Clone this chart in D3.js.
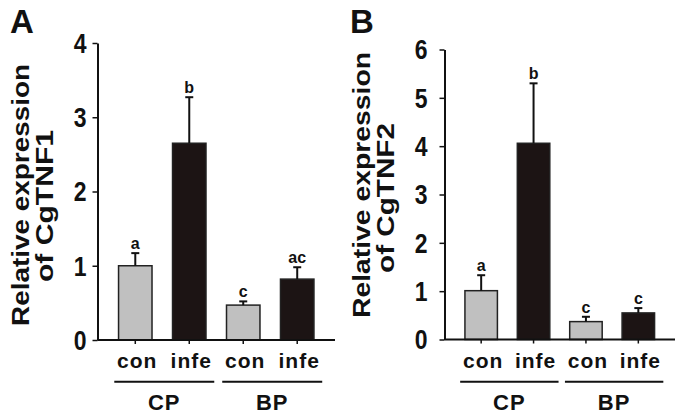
<!DOCTYPE html>
<html><head><meta charset="utf-8">
<script src="https://cdn.jsdelivr.net/npm/d3@7"></script>
<style>body{margin:0;background:#fff}text{font-family:"Liberation Sans",Arial,sans-serif;font-weight:bold;fill:#111}</style>
</head><body><svg id="c" width="683" height="417"></svg>
<script>
const categories = ["con","infe","con","infe"];
const groups = ["CP","BP"];
const valuesA = [1.0, 2.65, 0.47, 0.82];
const errorsA = [0.17, 0.62, 0.05, 0.16];
const lettersA = ["a","b","c","ac"];
const ticksA = [0,1,2,3,4];
const valuesB = [1.01, 4.06, 0.37, 0.55];
const errorsB = [0.32, 1.24, 0.10, 0.10];
const lettersB = ["a","b","c","c"];
const ticksB = [0,1,2,3,4,5,6];
const fills = ["#c0c0c0","#1c1414","#c0c0c0","#1c1414"];

const svg = d3.select("#c");

function panel(o){
  const g = svg.append("g");
  const x = d3.scaleBand().domain(d3.range(categories.length)).range([o.x0,o.x1]).paddingInner(0.38).paddingOuter(0.39);
  const y = d3.scaleLinear().domain([0,o.max]).range([o.y0,o.y1]);
  g.selectAll("rect.bar").data(o.values).join("rect")
    .attr("x",(d,i)=>x(i)).attr("width",x.bandwidth())
    .attr("y",d=>y(d)).attr("height",d=>y(0)-y(d))
    .attr("fill",(d,i)=>fills[i]).attr("stroke","#222").attr("stroke-width",1.5);
  o.values.forEach((v,i)=>{
    const cx = x(i)+x.bandwidth()/2, top=y(v+o.errors[i]);
    g.append("line").attr("x1",cx).attr("x2",cx).attr("y1",y(v)).attr("y2",top).attr("stroke","#111").attr("stroke-width",2);
    g.append("line").attr("x1",cx-4).attr("x2",cx+4).attr("y1",top).attr("y2",top).attr("stroke","#111").attr("stroke-width",2);
    g.append("text").attr("x",cx).attr("y",top-4).attr("text-anchor","middle").attr("font-size",16).text(o.letters[i]);
  });
  const ya = g.append("g").attr("transform",`translate(${o.x0},0)`)
    .call(d3.axisLeft(y).tickValues(o.ticks).tickFormat(d3.format("d")).tickSize(5).tickSizeOuter(0));
  ya.select(".domain").attr("stroke","#111").attr("stroke-width",2);
  ya.selectAll(".tick line").attr("stroke","#111").attr("stroke-width",1.5);
  ya.selectAll(".tick text").attr("x",-o.labOff).attr("dy","0.34em").attr("font-size",23)
    .attr("transform","scale(1,1.2)").attr("fill","#111").style("font-family",'"Liberation Sans",Arial,sans-serif').style("font-weight","bold");
  const xa = g.append("g").attr("transform",`translate(0,${y(0)})`);
  xa.append("line").attr("x1",o.x0).attr("x2",o.x1).attr("stroke","#111").attr("stroke-width",2);
  categories.forEach((c,i)=>{
    const cx = x(i)+x.bandwidth()/2;
    xa.append("line").attr("x1",cx).attr("x2",cx).attr("y1",0).attr("y2",4).attr("stroke","#111").attr("stroke-width",1.5);
    g.append("text").attr("x",cx+2).attr("y",368).attr("text-anchor","middle").attr("font-size",21).attr("letter-spacing",1).text(c);
  });
  groups.forEach((gr,k)=>{
    const c1 = x(2*k)+x.bandwidth()/2, c2 = x(2*k+1)+x.bandwidth()/2;
    const l0 = c1-21, l1 = c2+25;
    g.append("line").attr("x1",l0).attr("x2",l1).attr("y1",381.7).attr("y2",381.7).attr("stroke","#111").attr("stroke-width",2);
    g.append("text").attr("x",(l0+l1)/2).attr("y",410).attr("text-anchor","middle").attr("font-size",22).attr("letter-spacing",1).text(gr);
  });
  g.append("text").attr("transform",`translate(${o.tx1},${o.tc1}) rotate(-90)`).attr("text-anchor","middle").attr("font-size",24)
    .attr("textLength",o.len1).attr("lengthAdjust","spacingAndGlyphs").text("Relative expression");
  g.append("text").attr("transform",`translate(${o.tx2},${o.tc2}) rotate(-90)`).attr("text-anchor","middle").attr("font-size",24)
    .attr("textLength",o.len2).attr("lengthAdjust","spacingAndGlyphs").text(o.gene);
  g.append("text").attr("x",o.px).attr("y",33).attr("font-size",33).text(o.panel);
}

panel({x0:97.5,x1:335,y0:340,y1:43,max:4,values:valuesA,errors:errorsA,letters:lettersA,ticks:ticksA,labOff:11,
  tx1:29,tc1:195,len1:262,tx2:53,tc2:206,len2:152,gene:"of CgTNF1",panel:"A",px:10});
panel({x0:444.5,x1:675,y0:339.5,y1:49.5,max:6,values:valuesB,errors:errorsB,letters:lettersB,ticks:ticksB,labOff:17,
  tx1:370,tc1:185,len1:266,tx2:394,tc2:198,len2:150,gene:"of CgTNF2",panel:"B",px:350});
</script></body></html>
